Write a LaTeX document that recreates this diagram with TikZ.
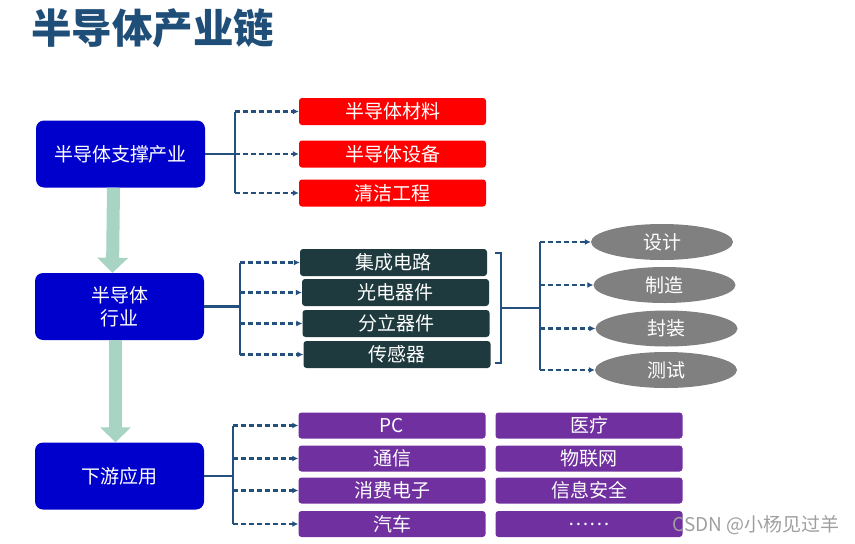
\documentclass[tikz,border=0pt]{standalone}
\usepackage{fontspec}
\setmainfont{Noto Sans CJK SC}
\usetikzlibrary{arrows.meta,shapes.geometric}
\definecolor{titleblue}{RGB}{31,78,121}
\definecolor{boxblue}{RGB}{0,0,204}
\definecolor{linkblue}{RGB}{36,80,125}
\definecolor{flowgreen}{RGB}{168,212,196}
\definecolor{darkteal}{RGB}{30,58,62}
\definecolor{appviolet}{RGB}{112,48,160}
\definecolor{stagegray}{RGB}{128,128,128}
\tikzset{
  level/.style={fill=boxblue,text=white,rounded corners=8pt,minimum width=169pt,
    minimum height=67pt,align=center,font=\fontsize{19}{23}\selectfont},
  item/.style={text=white,rounded corners=3pt,minimum width=187pt,minimum height=27pt,
    inner sep=0pt,font=\fontsize{19}{22}\selectfont},
  stage/.style={ellipse,fill=stagegray,text=white,minimum width=142pt,minimum height=36pt,
    inner sep=0pt,font=\fontsize{19}{22}\selectfont},
  trunk/.style={draw=linkblue,line width=2.5pt},
  link/.style={draw=linkblue,line width=2.5pt,dash pattern=on 5pt off 3pt,
    -{Latex[length=6pt,width=6pt]}},
  flow/.style={draw=flowgreen,line width=13pt,-{Triangle[length=15pt,width=30pt]}}
}
\begin{document}
\begin{tikzpicture}[x=1pt,y=-1pt]
  \useasboundingbox (0,0) rectangle (855,544);
  \node[anchor=west,inner sep=0pt,text=titleblue,font=\fontsize{40.5}{42}\selectfont\bfseries]
    (title) at (31,28) {半导体产业链};

  % three levels
  \node[level] (sup) at (120.5,154) {半导体支撑产业};
  \node[level] (ind) at (119.5,306.5) {半导体\\行业};
  \node[level] (app) at (119.5,476) {下游应用};
  \draw[flow] ([xshift=-7pt]sup.south) -- ([xshift=-7pt]ind.north);
  \draw[flow] ([xshift=-4pt]ind.south) -- ([xshift=-4pt]app.north);

  % support
  \node[item,fill=red] (m1) at (392.5,111.5) {半导体材料};
  \node[item,fill=red] (m2) at (392.5,154) {半导体设备};
  \node[item,fill=red] (m3) at (392.5,193) {清洁工程};
  \coordinate (t1) at (235,0);
  \draw[trunk] (sup.east) -- (sup.east -| t1);
  \draw[trunk] (m1.west -| t1) -- (m3.west -| t1);
  \foreach \n in {m1,m2,m3}
    \draw[link] (\n.west -| t1) -- (\n.west);

  % industry
  \node[item,fill=darkteal] (c1) at (393.5,262.5) {集成电路};
  \node[item,fill=darkteal] (c2) at (395.5,292.5) {光电器件};
  \node[item,fill=darkteal] (c3) at (396,323.5) {分立器件};
  \node[item,fill=darkteal] (c4) at (397,354.5) {传感器};
  \coordinate (t2) at (240,0);
  \draw[trunk] (ind.east) -- (ind.east -| t2);
  \draw[trunk] (c1.west -| t2) -- (c4.west -| t2);
  \foreach \n in {c1,c2,c3,c4}
    \draw[link] (\n.west -| t2) -- (\n.west);

  \coordinate (b1) at (501,253);
  \coordinate (b2) at (501,363);
  \coordinate (bm) at (501,308);
  \coordinate (t3) at (540,0);
  \draw[trunk] ([xshift=-6pt]b1) -- (b1) -- (b2) -- ([xshift=-6pt]b2);
  \draw[trunk] (bm) -- (bm -| t3);

  \node[stage] (e1) at (662,242) {设计};
  \node[stage] (e2) at (664.5,285) {制造};
  \node[stage] (e3) at (666.5,328.5) {封装};
  \node[stage] (e4) at (666,370) {测试};
  \draw[trunk] (e1.west -| t3) -- (e4.west -| t3);
  \foreach \n in {e1,e2,e3,e4}
    \draw[link] (\n.west -| t3) -- (\n.west);

  % applications
  \node[item,fill=appviolet,minimum height=26pt] (a1) at (392,425.5) {PC};
  \node[item,fill=appviolet,minimum height=26pt] (a2) at (392,458.5) {通信};
  \node[item,fill=appviolet,minimum height=26pt] (a3) at (392,490.5) {消费电子};
  \node[item,fill=appviolet,minimum height=26pt] (a4) at (392,524) {汽车};
  \node[item,fill=appviolet,minimum height=26pt] (a5) at (589,425.5) {医疗};
  \node[item,fill=appviolet,minimum height=26pt] (a6) at (589,458.5) {物联网};
  \node[item,fill=appviolet,minimum height=26pt] (a7) at (589,490.5) {信息安全};
  \node[item,fill=appviolet,minimum height=26pt] (a8) at (589,524) {……};
  \coordinate (t4) at (233,0);
  \draw[trunk] (app.east) -- (app.east -| t4);
  \draw[trunk] (a1.west -| t4) -- (a4.west -| t4);
  \foreach \n in {a1,a2,a3,a4}
    \draw[link] (\n.west -| t4) -- (\n.west);

  \node[anchor=east,inner sep=0pt,text=gray!75,font=\fontsize{19}{21}\selectfont]
    (mark) at (840,525) {CSDN @小杨见过羊};
\end{tikzpicture}
\end{document}
